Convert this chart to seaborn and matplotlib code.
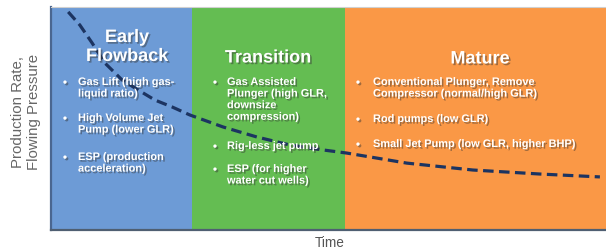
import numpy as np
import pandas as pd
import seaborn as sns
import matplotlib.pyplot as plt
import matplotlib.patheffects as pe

# data (time 0-100, pressure 0-100)
time = [3.1, 5.2, 7.4, 9.7, 12.8, 15.7, 18.7, 21.8, 25.0, 31.0, 37.1, 43.1, 49.0, 53.3, 64.1, 76.0, 88.1, 98.9]
pressure = [97.8, 91.9, 83.9, 74.9, 67.3, 62.8, 58.3, 55.2, 51.6, 46.2, 41.7, 38.1, 35.9, 34.5, 30.0, 26.9, 25.1, 23.8]

phase_names = ["Early\nFlowback", "Transition", "Mature"]
phase_start = [0, 25.4, 53.0]
phase_end = [25.4, 53.0, 100]
phase_colors = ["#6d9bd6", "#64bd52", "#fa9846"]

phase_items = [
    ["Gas Lift (high gas-\nliquid ratio)", "High Volume Jet\nPump (lower GLR)", "ESP (production\nacceleration)"],
    ["Gas Assisted\nPlunger (high GLR,\ndownsize\ncompression)", "Rig-less jet pump", "ESP (for higher\nwater cut wells)"],
    ["Conventional Plunger, Remove\nCompressor (normal/high GLR)", "Rod pumps (low GLR)", "Small Jet Pump (low GLR, higher BHP)"],
]

df = pd.DataFrame({"time": time, "pressure": pressure})

sns.set_theme(style="white")
plt.rcParams['font.family'] = ['Liberation Sans', 'DejaVu Sans']

fig = plt.figure(figsize=(6.06, 2.52), dpi=100)
ax = fig.add_axes([51/606, 22/252, 555/606, 223/252])
ax.set_xlim(0, 100)
ax.set_ylim(0, 100)

# pixel -> data helpers
def tx(px):
    return (px - 51) / 5.55

def ty(py):
    return (230 - py) / 2.23

shadow = [pe.SimplePatchShadow(offset=(1.2, -1.2), shadow_rgbFace='#333333', alpha=0.45), pe.Normal()]

for s, e, c in zip(phase_start, phase_end, phase_colors):
    ax.axvspan(s, e, color=c, lw=0)

# titles
title_pos = [(127, 47), (268, 58), (480, 59)]
for name, (x, y) in zip(phase_names, title_pos):
    ax.text(tx(x), ty(y), name, color='white', fontsize=13, fontweight='bold',
            ha='center', va='center', linespacing=1.15, path_effects=shadow)

# bullet lists: (bullet x, text x, y of first line of each item)
bullet_layout = [
    (65, 78, [83, 119, 158]),
    (215, 227, [83, 147, 170]),
    (358, 373, [83, 120, 145]),
]
for items, (bx, txp, ys) in zip(phase_items, bullet_layout):
    for item, y in zip(items, ys):
        ax.text(tx(bx), ty(y), "\u2022", color='white', fontsize=8.5, fontweight='bold',
                ha='center', va='center', path_effects=shadow)
        ax.text(tx(txp), ty(y - 6), item, color='white', fontsize=7.9, fontweight='bold',
                ha='left', va='top', linespacing=1.2, path_effects=shadow)

sns.lineplot(data=df, x="time", y="pressure", ax=ax, color="#1c3461", lw=2.3, sort=False)
ax.lines[-1].set_linestyle((0, (3.3, 1.7)))
ax.lines[-1].set_solid_capstyle('butt')

ax.set_xticks([])
ax.set_yticks([])
ax.set_xlabel("")
ax.set_ylabel("")
ax.spines['right'].set_visible(False)
ax.spines['top'].set_color('#d0d0d0')
ax.spines['top'].set_linewidth(0.8)
ax.spines['left'].set_color('#4a6690')
ax.spines['left'].set_linewidth(1.6)
ax.spines['bottom'].set_color('#4f5f72')
ax.spines['bottom'].set_linewidth(1.6)

fig.text(26/606, 1 - 112/252, "Production Rate,\nFlowing Pressure", rotation=90,
         ha='center', va='center', fontsize=10.8, color='#666666', linespacing=1.15)
fig.text(330/606, 1 - 243/252, "Time", ha='center', va='center', fontsize=9.8, color='#555555')

fig.savefig("out.png", dpi=100)
